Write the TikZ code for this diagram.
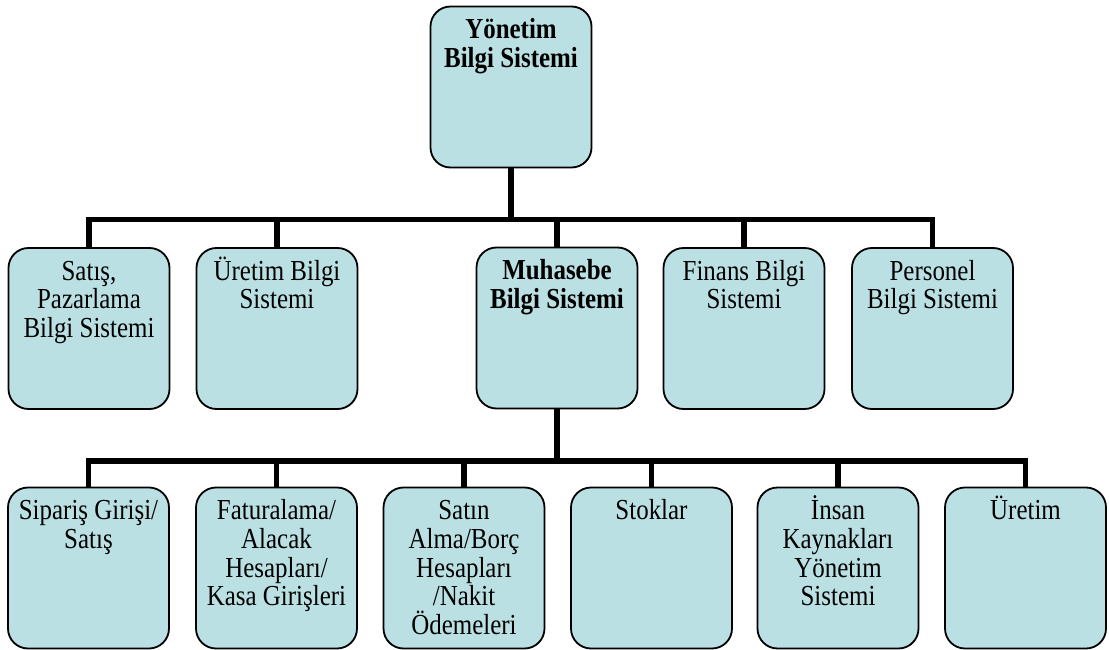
\documentclass[tikz,border=0pt]{standalone}
\usepackage{fontspec}
\setmainfont{Liberation Serif}[FakeStretch=0.86]
\definecolor{boxfill}{RGB}{187,224,227}
% invisible rule that fixes the height of every first text line
\newcommand\lnstrut{\rule{0pt}{27pt}}
\begin{document}
\begin{tikzpicture}[x=1pt,y=-1pt,
  box/.style={draw=black, line width=1.8pt, fill=boxfill, rounded corners=20pt,
    minimum width=161pt, minimum height=161pt, inner sep=0pt},
  lbl/.style={anchor=north, inner sep=0pt, align=center,
    font=\fontsize{29}{28.6}\selectfont},
  blbl/.style={lbl, font=\fontsize{29}{28.6}\selectfont\bfseries},
  bus/.style={draw=black, line width=5.5pt}]
\useasboundingbox (0,0) rectangle (1109,650);

% top level
\node[box] (top) at (511,87) {};

% second level
\node[box] (sat) at (89,328.5) {};
\node[box] (ure) at (277,328.5) {};
\node[box] (muh) at (557,328) {};
\node[box] (fin) at (744,328.5) {};
\node[box] (per) at (932.5,328.5) {};

% third level
\node[box] (sip) at (88.5,568) {};
\node[box] (fat) at (276.5,568) {};
\node[box] (sa)  at (464,568) {};
\node[box] (sto) at (651.5,568) {};
\node[box] (ins) at (838,568) {};
\node[box] (ur)  at (1025.5,568) {};

% labels
\node[blbl] (ttop) at ([yshift=-6pt]top.north) {\lnstrut Yönetim\\Bilgi Sistemi};
\node[lbl] (tsat) at ([yshift=-6pt]sat.north) {\lnstrut Satış,\\Pazarlama\\Bilgi Sistemi};
\node[lbl] (ture) at ([yshift=-6pt]ure.north) {\lnstrut Üretim Bilgi\\Sistemi};
\node[blbl] (tmuh) at ([yshift=-6pt]muh.north) {\lnstrut Muhasebe\\Bilgi Sistemi};
\node[lbl] (tfin) at ([yshift=-6pt]fin.north) {\lnstrut Finans Bilgi\\Sistemi};
\node[lbl] (tper) at ([yshift=-6pt]per.north) {\lnstrut Personel\\Bilgi Sistemi};
\node[lbl] (tsip) at ([yshift=-6pt]sip.north) {\lnstrut Sipariş Girişi/\\Satış};
\node[lbl] (tfat) at ([yshift=-6pt]fat.north) {\lnstrut Faturalama/\\Alacak\\Hesapları/\\Kasa Girişleri};
\node[lbl] (tsa) at ([yshift=-6pt]sa.north) {\lnstrut Satın\\Alma/Borç\\Hesapları\\/Nakit\\Ödemeleri};
\node[lbl] (tsto) at ([yshift=-6pt]sto.north) {\lnstrut Stoklar};
\node[lbl] (tins) at ([yshift=-6pt]ins.north) {\lnstrut İnsan\\Kaynakları\\Yönetim\\Sistemi};
\node[lbl] (tur) at ([yshift=-6pt]ur.north) {\lnstrut Üretim};

% connectors: top to second level
\coordinate (busA) at (511,219.5);
\draw[bus] (top.south) -- (busA);
\draw[bus] (sat.north) |- (busA) -| (per.north);
\draw[bus] (ure.north) -- (ure.north |- busA);
\draw[bus] (muh.north) -- (muh.north |- busA);
\draw[bus] (fin.north) -- (fin.north |- busA);

% connectors: accounting system to third level
\coordinate (busB) at (557,461);
\draw[bus] (muh.south) -- (busB);
\draw[bus] (sip.north) |- (busB) -| (ur.north);
\draw[bus] (fat.north) -- (fat.north |- busB);
\draw[bus] (sa.north) -- (sa.north |- busB);
\draw[bus] (sto.north) -- (sto.north |- busB);
\draw[bus] (ins.north) -- (ins.north |- busB);
\end{tikzpicture}
\end{document}
